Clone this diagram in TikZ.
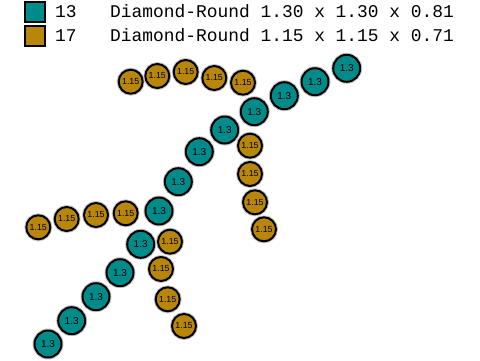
\documentclass[tikz,border=0pt]{standalone}
\usepackage{fontspec}
\setmainfont{Liberation Sans}
\setmonofont{Liberation Mono}
\usepackage{tikz}
\usetikzlibrary{calc}
\definecolor{tealbead}{HTML}{008B8B}
\definecolor{goldbead}{HTML}{B8860B}
\tikzset{
 bead/.style={circle, draw=black, line width=2pt, inner sep=0pt,
   preaction={draw=black!22, line width=4pt}},
 bigbead/.style={bead, fill=tealbead, minimum size=27pt, font=\fontsize{10}{10}\selectfont},
 smallbead/.style={bead, fill=goldbead, minimum size=24pt, font=\fontsize{8.8}{9}\selectfont},
 keybox/.style={draw=black, line width=2pt, minimum size=20pt, inner sep=0pt},
 keytext/.style={anchor=base west, inner sep=0pt, font=\ttfamily\fontsize{17.9}{18}\selectfont}
}

\begin{document}
\begin{tikzpicture}[x=1pt, y=-1pt]
\useasboundingbox (0,0) rectangle (480,360);
% legend
\node[keybox, fill=tealbead] (key1) at (35,11.5) {};
\node[keybox, fill=goldbead] (key2) at (35,35.8) {};
\node[keytext] (num1) at (55,17) {13};
\node[keytext] (num2) at (55,41.5) {17};
\node[keytext] (txt1) at (110,17) {Diamond-Round 1.30 x 1.30 x 0.81};
\node[keytext] (txt2) at (110,41.5) {Diamond-Round 1.15 x 1.15 x 0.71};
% 1.3 beads
\foreach \x/\y [count=\i] in {346.7/68.3, 315/81.7, 284.3/95.7, 254.3/111.7, 224.7/130,
  199.3/151.7, 178.3/181.7, 159/211, 140.7/244.3, 120/272.7, 96/296.7, 71.7/320.7, 48/344} {
 \node[bigbead] (t\i) at (\x,\y) {1.3};
}
% 1.15 beads
\foreach \x/\y [count=\i] in {130.7/81.7, 157.3/76, 185.7/72, 214.3/78, 243/82.7,
  250/145.7, 250/174, 255/202.3, 264/229.3,
  38.3/227.3, 66.7/219, 96/215, 125.7/213.3,
  170/241.7, 161/269, 167.7/299.3, 184/326} {
 \node[smallbead] (g\i) at (\x,\y) {1.15};
}
\end{tikzpicture}
\end{document}
